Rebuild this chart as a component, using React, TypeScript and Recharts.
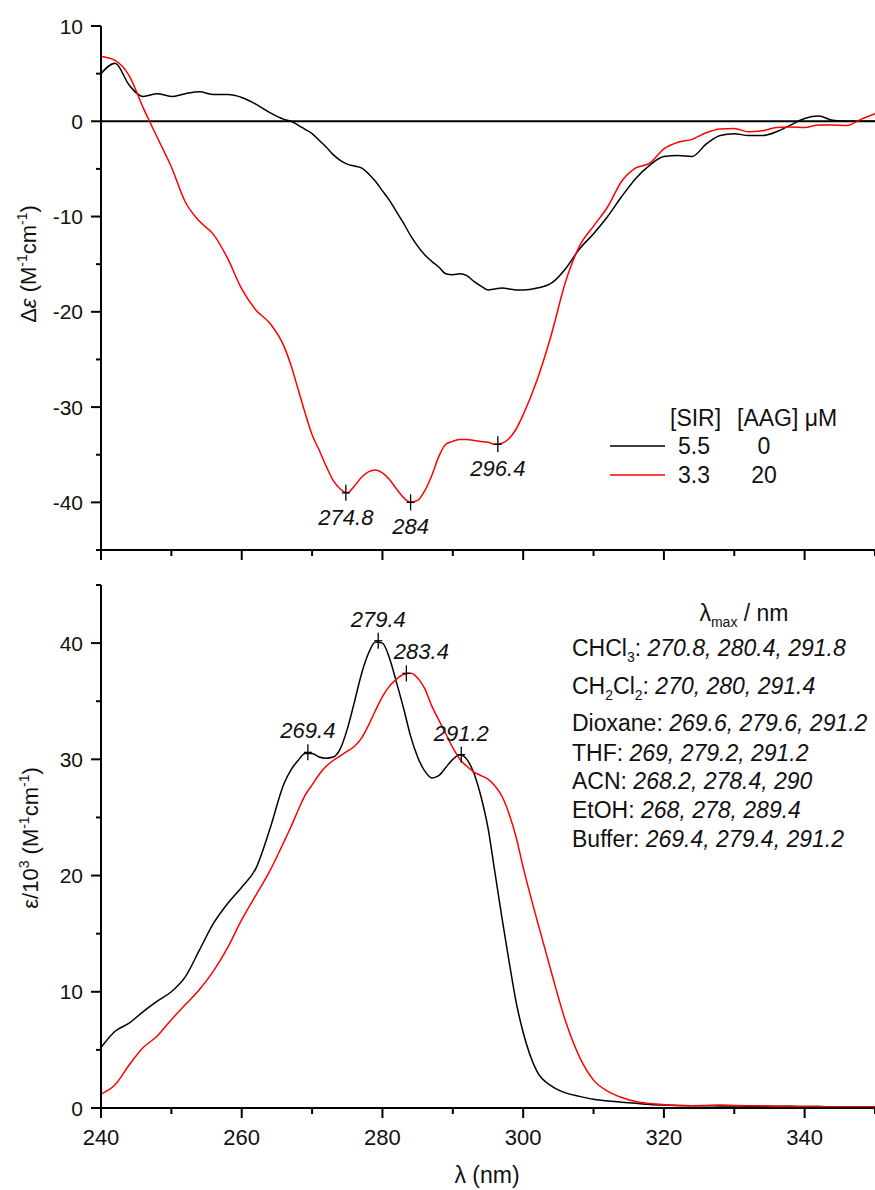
import React from 'react';
import { LineChart, Line, XAxis, YAxis, ReferenceLine, ReferenceDot } from 'recharts';

// wavelength grid (nm) shared by both panels
const wavelength = [
  240, 242, 244, 246, 248, 250, 252, 254, 256, 258, 260, 262, 264,
  266, 267, 268, 269, 270, 271, 272, 273, 274, 275, 276, 277, 278, 279, 280,
  281, 282, 283, 284, 285, 286, 287, 288, 289, 290, 291, 292, 293, 294, 295,
  296, 297, 298, 299, 300,
  302, 304, 306, 308, 310, 312, 314, 316, 318, 320, 322, 324, 326, 328, 330,
  332, 334, 336, 338, 340, 342, 344, 346, 348, 350,
];

// CD spectra, delta epsilon (M-1 cm-1)
const cdFree = [
  5.0, 6.1, 3.8, 2.6, 2.9, 2.6, 2.9, 3.1, 2.8, 2.8, 2.5, 1.8, 0.9,
  0.2, 0.0, -0.4, -0.85, -1.3, -2.0, -2.7, -3.5, -4.1, -4.5, -4.7, -4.9, -5.5, -6.3, -7.3,
  -8.3, -9.5, -10.7, -12.0, -13.1, -14.0, -14.7, -15.3, -16.0, -16.1, -16.0, -16.2, -16.8, -17.3, -17.7,
  -17.6, -17.5, -17.6, -17.7, -17.7,
  -17.5, -17.0, -15.5, -13.4, -11.8, -10.0, -7.9, -6.0, -4.6, -3.7, -3.6, -3.7, -2.4, -1.5, -1.3,
  -1.5, -1.5, -1.1, -0.4, 0.3, 0.55, 0.1, 0.0, 0.0, 0.0,
];
const cdBound = [
  6.8, 6.4, 4.8, 1.4, -1.7, -4.8, -8.5, -10.5, -11.9, -14.4, -17.6, -19.8, -21.2,
  -23.6, -25.6, -28.1, -30.6, -32.9, -34.5, -36.2, -37.7, -38.6, -39.0, -38.3, -37.4, -36.8, -36.6, -36.9,
  -37.6, -38.6, -39.5, -40.0, -39.8, -38.8, -37.2, -35.2, -33.9, -33.6, -33.4, -33.4, -33.5, -33.6, -33.7,
  -33.9, -33.8, -33.3, -32.3, -30.8,
  -27.1, -22.4, -16.9, -13.1, -11.0, -9.0, -6.3, -4.9, -4.4, -2.9, -2.2, -1.9, -1.2, -0.8, -0.75,
  -1.1, -1.0, -0.65, -0.6, -0.65, -0.4, -0.4, -0.45, 0.2, 0.8,
];

// absorption spectra, epsilon / 10^3 (M-1 cm-1)
const absFree = [
  5.2, 6.6, 7.3, 8.3, 9.2, 10.0, 11.3, 13.6, 15.9, 17.6, 19.0, 20.6, 24.0,
  27.9, 29.1, 29.9, 30.5, 30.5, 30.2, 30.1, 30.2, 30.9, 32.6, 34.9, 37.3, 39.1, 40.1, 40.0,
  38.7, 36.6, 34.4, 32.0, 30.2, 29.0, 28.4, 28.6, 29.3, 30.0, 30.4, 30.0, 28.8, 26.8, 24.1,
  20.2, 16.3, 12.6, 9.1, 6.5,
  3.1, 1.9, 1.3, 1.0, 0.75, 0.6, 0.5, 0.4, 0.3, 0.25, 0.22, 0.2, 0.2, 0.18, 0.18,
  0.15, 0.15, 0.15, 0.15, 0.12, 0.12, 0.1, 0.1, 0.1, 0.1,
];
const absBound = [
  1.2, 2.0, 3.7, 5.2, 6.2, 7.6, 8.9, 10.2, 11.8, 13.8, 16.2, 18.3, 20.4,
  22.9, 24.2, 25.6, 26.9, 27.8, 28.7, 29.4, 29.9, 30.3, 30.7, 31.1, 31.8, 32.9, 34.2, 35.4,
  36.3, 36.9, 37.3, 37.4, 37.0, 36.1, 34.6, 33.4, 32.2, 31.0, 30.0, 29.4, 28.9, 28.6, 28.3,
  27.7, 26.8, 25.3, 23.3, 20.7,
  16.1, 11.7, 7.5, 4.4, 2.4, 1.45, 0.9, 0.55, 0.38, 0.28, 0.22, 0.2, 0.22, 0.25, 0.22,
  0.2, 0.18, 0.15, 0.15, 0.12, 0.12, 0.1, 0.1, 0.1, 0.1,
];

// marked extrema
const cdPeakLambda = [274.8, 284, 296.4];
const cdPeakValue = [-39.0, -40.0, -33.9];
const absPeakLambda = [269.4, 279.4, 283.4, 291.2];
const absPeakValue = [30.6, 40.2, 37.4, 30.4];

// ticks
const xTicks = [240, 250, 260, 270, 280, 290, 300, 310, 320, 330, 340, 350];
const cdYTicks = [-45, -40, -35, -30, -25, -20, -15, -10, -5, 0, 5, 10];
const absYTicks = [0, 5, 10, 15, 20, 25, 30, 35, 40, 45];

// legend / annotation text
const legendHead = ['[SIR]', '[AAG]'];
const legendSir = ['5.5', '3.3'];
const legendAag = ['0', '20'];
const solvents = ['CHCl3', 'CH2Cl2', 'Dioxane', 'THF', 'ACN', 'EtOH', 'Buffer'];
const solventMax = [
  '270.8, 280.4, 291.8',
  '270, 280, 291.4',
  '269.6, 279.6, 291.2',
  '269, 279.2, 291.2',
  '268.2, 278.4, 290',
  '268, 278, 289.4',
  '269.4, 279.4, 291.2',
];

const cdData = wavelength.map((l, i) => ({ lambda: l, free: cdFree[i], bound: cdBound[i] }));
const absData = wavelength.map((l, i) => ({ lambda: l, free: absFree[i], bound: absBound[i] }));

const FONT = '"Liberation Sans", Arial, sans-serif';
const RED = '#ff0000';
const axisStyle = { stroke: '#000', strokeWidth: 2 };

const YTick = (props: any) => {
  const { x, y, payload } = props;
  const v = payload.value;
  const major = v % 10 === 0;
  return (
    <g>
      <line x1={x} y1={y} x2={x - (major ? 10 : 5)} y2={y} stroke="#000" strokeWidth={2} />
      {major && (
        <text x={x - 18} y={y + 7.5} textAnchor="end" fontSize={21} fontFamily={FONT} fill="#111">
          {v}
        </text>
      )}
    </g>
  );
};

const XTick = (props: any) => {
  const { x, y, payload, showLabel } = props;
  const v = payload.value;
  const major = (v - 240) % 20 === 0;
  return (
    <g>
      <line x1={x} y1={y} x2={x} y2={y + (major ? 10 : 6)} stroke="#000" strokeWidth={2} />
      {showLabel && major && (
        <text x={x} y={y + 37} textAnchor="middle" fontSize={22} fontFamily={FONT} fill="#111">
          {v}
        </text>
      )}
    </g>
  );
};

const PeakMark = ({ cx, cy, text, below, dx = 0 }: any) => (
  <g>
    <line x1={cx} y1={cy - 8} x2={cx} y2={cy + 8} stroke="#000" strokeWidth={1.3} />
    <line x1={cx - 4} y1={cy} x2={cx + 4} y2={cy} stroke="#000" strokeWidth={1.3} />
    <text
      x={cx + dx}
      y={below ? cy + 32 : cy - 14}
      textAnchor="middle"
      fontSize={22}
      fontStyle="italic"
      fontFamily={FONT}
      fill="#111"
    >
      {text}
    </text>
  </g>
);

const Chem = ({ name }: { name: string }) => {
  const parts = name.split(/(\d)/).filter((p) => p !== '');
  return (
    <>
      {parts.map((p, i) =>
        /\d/.test(p) ? (
          <tspan key={i} fontSize={14} dy={6}>{p}</tspan>
        ) : (
          <tspan key={i} dy={i > 0 && /\d/.test(parts[i - 1]) ? -6 : 0}>{p}</tspan>
        )
      )}
    </>
  );
};

export default function App() {
  const listBaselines = [656, 694, 731, 761, 789, 818, 847];
  return (
    <div
      style={{
        position: 'absolute',
        left: 0,
        top: 0,
        width: 875,
        height: 1190,
        overflow: 'hidden',
        background: '#fff',
      }}
    >
      {/* CD panel */}
      <div style={{ position: 'absolute', left: 0, top: 0 }}>
        <LineChart width={875} height={570} data={cdData} margin={{ top: 26, right: 0, bottom: 0, left: 0 }}>
          <XAxis
            type="number"
            dataKey="lambda"
            domain={[240, 350]}
            ticks={xTicks}
            interval={0}
            height={20}
            tickSize={0}
            tickMargin={0}
            tickLine={false}
            axisLine={axisStyle}
            tick={<XTick showLabel={false} />}
          />
          <YAxis
            type="number"
            domain={[-45, 10]}
            ticks={cdYTicks}
            interval={0}
            width={101}
            tickSize={0}
            tickMargin={0}
            tickLine={false}
            axisLine={axisStyle}
            tick={<YTick />}
          />
          <ReferenceLine y={0} stroke="#000" strokeWidth={2} />
          <Line type="monotone" dataKey="free" stroke="#000" strokeWidth={1.5} dot={false} isAnimationActive={false} />
          <Line type="monotone" dataKey="bound" stroke={RED} strokeWidth={1.5} dot={false} isAnimationActive={false} />
          {cdPeakLambda.map((l, i) => (
            <ReferenceDot
              key={l}
              x={l}
              y={cdPeakValue[i]}
              r={0}
              shape={(p: any) => <PeakMark cx={p.cx} cy={p.cy} text={String(l)} below />}
            />
          ))}
        </LineChart>
      </div>

      {/* absorption panel */}
      <div style={{ position: 'absolute', left: 0, top: 560 }}>
        <LineChart width={875} height={630} data={absData} margin={{ top: 25, right: 0, bottom: 0, left: 0 }}>
          <XAxis
            type="number"
            dataKey="lambda"
            domain={[240, 350]}
            ticks={xTicks}
            interval={0}
            height={82}
            tickSize={0}
            tickMargin={0}
            tickLine={false}
            axisLine={axisStyle}
            tick={<XTick showLabel />}
          />
          <YAxis
            type="number"
            domain={[0, 45]}
            ticks={absYTicks}
            interval={0}
            width={101}
            tickSize={0}
            tickMargin={0}
            tickLine={false}
            axisLine={axisStyle}
            tick={<YTick />}
          />
          <Line type="monotone" dataKey="free" stroke="#000" strokeWidth={1.5} dot={false} isAnimationActive={false} />
          <Line type="monotone" dataKey="bound" stroke={RED} strokeWidth={1.5} dot={false} isAnimationActive={false} />
          {absPeakLambda.map((l, i) => (
            <ReferenceDot
              key={l}
              x={l}
              y={absPeakValue[i]}
              r={0}
              shape={(p: any) => (
                <PeakMark cx={p.cx} cy={p.cy} text={String(l)} dx={l === 283.4 ? 15 : 0} />
              )}
            />
          ))}
        </LineChart>
      </div>

      {/* titles and legends */}
      <svg
        width={875}
        height={1190}
        style={{ position: 'absolute', left: 0, top: 0, pointerEvents: 'none' }}
        fontFamily={FONT}
        fill="#111"
      >
        <text transform="translate(28,264) rotate(-90)" y={8} textAnchor="middle" fontSize={22}>
          Δ<tspan fontStyle="italic">ε</tspan> (M<tspan fontSize={14} dy={-9}>-1</tspan>
          <tspan dy={9}>cm</tspan>
          <tspan fontSize={14} dy={-9}>-1</tspan>
          <tspan dy={9}>)</tspan>
        </text>
        <text transform="translate(30,838) rotate(-90)" y={8} textAnchor="middle" fontSize={22}>
          ε/10<tspan fontSize={14} dy={-9}>3</tspan>
          <tspan dy={9}> (M</tspan>
          <tspan fontSize={14} dy={-9}>-1</tspan>
          <tspan dy={9}>cm</tspan>
          <tspan fontSize={14} dy={-9}>-1</tspan>
          <tspan dy={9}>)</tspan>
        </text>
        <text x={487} y={1183} textAnchor="middle" fontSize={23}>λ (nm)</text>

        {/* CD legend */}
        <text x={670} y={426} fontSize={23}>{legendHead[0]}</text>
        <text x={737} y={426} fontSize={23}>{legendHead[1]} μM</text>
        <line x1={610} y1={446} x2={665} y2={446} stroke="#000" strokeWidth={1.5} />
        <line x1={610} y1={475} x2={665} y2={475} stroke={RED} strokeWidth={1.5} />
        {legendSir.map((s, i) => (
          <text key={s} x={694} y={454 + i * 29} textAnchor="middle" fontSize={23}>{s}</text>
        ))}
        {legendAag.map((s, i) => (
          <text key={s} x={764} y={454 + i * 29} textAnchor="middle" fontSize={23}>{s}</text>
        ))}

        {/* lambda max list */}
        <text x={744} y={621} textAnchor="middle" fontSize={23}>
          λ<tspan fontSize={14} dy={6}>max</tspan>
          <tspan dy={-6}> / nm</tspan>
        </text>
        {solvents.map((s, i) => (
          <text key={s} x={572} y={listBaselines[i]} fontSize={23}>
            <Chem name={s} />
            <tspan dy={/\d$/.test(s) ? -6 : 0}>: </tspan>
            <tspan fontStyle="italic">{solventMax[i]}</tspan>
          </text>
        ))}
      </svg>
    </div>
  );
}
